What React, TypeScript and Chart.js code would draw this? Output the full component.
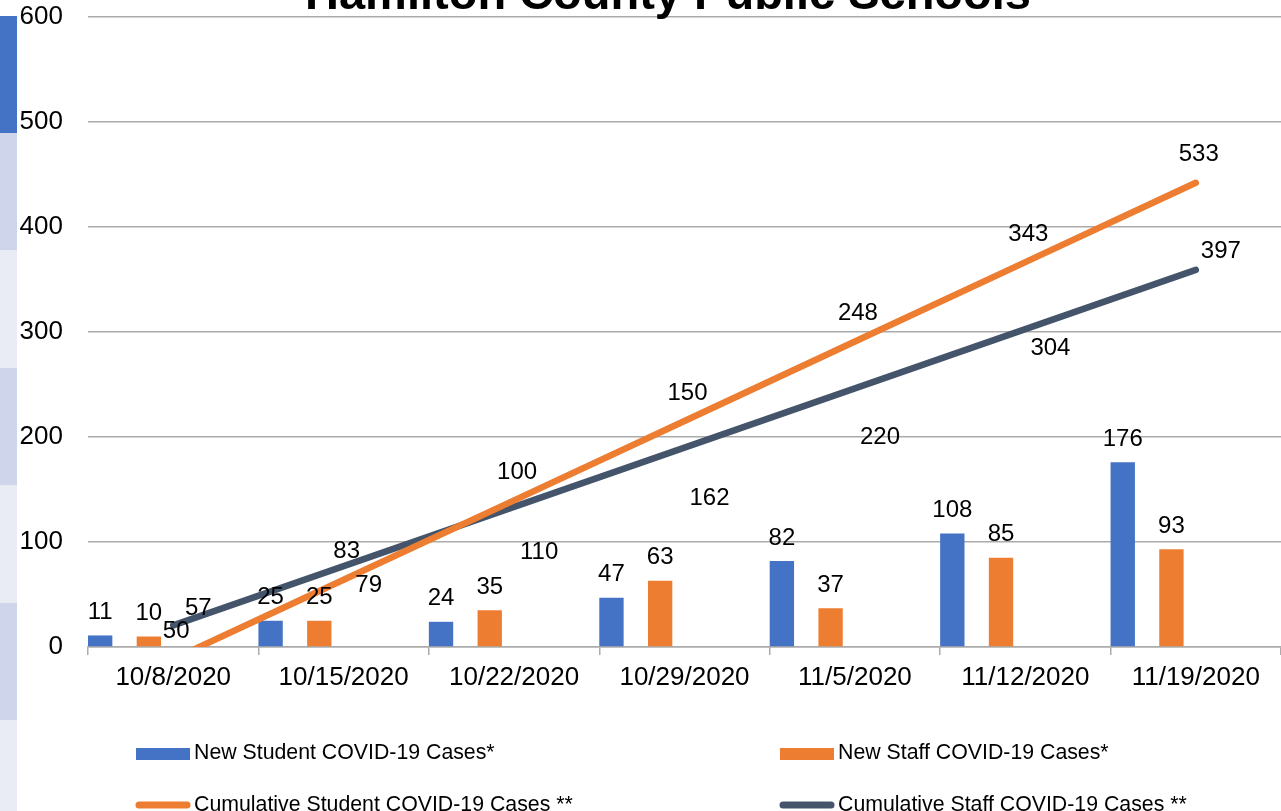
import React, { useEffect, useRef } from 'react';
import { Chart, registerables } from 'chart.js';

Chart.register(...registerables);

// ---------- data ----------
const categories = ['10/8/2020', '10/15/2020', '10/22/2020', '10/29/2020', '11/5/2020', '11/12/2020', '11/19/2020'];
const newStudentCases = [11, 25, 24, 47, 82, 108, 176];
const newStaffCases = [10, 25, 35, 63, 37, 85, 93];
const cumulativeStudentCases = [50, 83, 100, 150, 248, 343, 533];
const cumulativeStaffCases = [57, 79, 110, 162, 220, 304, 397];
const yAxisMin = 0;
const yAxisMax = 600;
const yAxisStep = 100;
const chartTitle = 'Hamilton County Public Schools';
const seriesNames = [
  'New Student COVID-19 Cases*',
  'New Staff COVID-19 Cases*',
  'Cumulative Student COVID-19 Cases **',
  'Cumulative Staff COVID-19 Cases **',
];

// ---------- styles ----------
const FONT = "'Liberation Sans', Arial, Helvetica, sans-serif";
const BLUE = '#4472C4';
const ORANGE = '#ED7D31';
const SLATE = '#44546A';
const GRID = '#ABABAB';

// least-squares linear trendline of a series (as in the source spreadsheet chart)
function linearTrend(values: number[]): number[] {
  const n = values.length;
  const mx = (n - 1) / 2;
  const my = values.reduce((a, b) => a + b, 0) / n;
  let sxy = 0;
  let sxx = 0;
  values.forEach((v, i) => {
    sxy += (i - mx) * (v - my);
    sxx += (i - mx) * (i - mx);
  });
  const slope = sxy / sxx;
  const intercept = my - slope * mx;
  return values.map((_, i) => intercept + slope * i);
}

const sideStripPlugin = {
  id: 'sideStrip',
  beforeDraw(chart: any, _args: any, opts: any) {
    const { ctx } = chart;
    ctx.save();
    ctx.fillStyle = opts.topColor;
    ctx.fillRect(0, opts.top, opts.width, opts.firstBand);
    let y = opts.top + opts.firstBand;
    let k = 0;
    while (y < chart.height) {
      ctx.fillStyle = k % 2 === 0 ? opts.bandA : opts.bandB;
      ctx.fillRect(0, y, opts.width, opts.band);
      y += opts.band;
      k++;
    }
    ctx.restore();
  },
};

const titlePlugin = {
  id: 'cutTitle',
  afterDraw(chart: any, _args: any, opts: any) {
    const { ctx } = chart;
    ctx.save();
    ctx.font = `bold ${opts.size}px ${FONT}`;
    ctx.fillStyle = '#000';
    ctx.textAlign = 'center';
    ctx.textBaseline = 'alphabetic';
    ctx.fillText(opts.text, opts.x, opts.baseline);
    ctx.restore();
  },
};

// value labels: text from dataset `values`, anchored at the elements of dataset `anchor`
const valueLabelPlugin = {
  id: 'valueLabels',
  afterDatasetsDraw(chart: any, _args: any, opts: any) {
    const { ctx } = chart;
    ctx.save();
    ctx.font = `${opts.size}px ${FONT}`;
    ctx.fillStyle = '#000';
    ctx.textAlign = 'center';
    ctx.textBaseline = 'alphabetic';
    (opts.labels as any[]).forEach((spec) => {
      const meta = chart.getDatasetMeta(spec.anchor);
      const data = chart.data.datasets[spec.values].data as number[];
      meta.data.forEach((el: any, i: number) => {
        ctx.fillText(String(data[i]), el.x + spec.dx, el.y + spec.dy);
      });
    });
    ctx.restore();
  },
};

const columnLegendPlugin = {
  id: 'columnLegend',
  afterDraw(chart: any, _args: any, opts: any) {
    const { ctx } = chart;
    ctx.save();
    ctx.font = `${opts.size}px ${FONT}`;
    ctx.fillStyle = '#000';
    ctx.textAlign = 'left';
    ctx.textBaseline = 'alphabetic';
    (opts.items as any[]).forEach((item, idx) => {
      const ds = chart.data.datasets[item.dataset];
      const x = opts.columns[idx % 2];
      const base = opts.rows[Math.floor(idx / 2)];
      if (item.kind === 'rect') {
        ctx.fillStyle = ds.backgroundColor;
        ctx.fillRect(x, base - 11, opts.markerWidth, 12);
      } else {
        ctx.strokeStyle = ds.borderColor;
        ctx.lineWidth = 7;
        ctx.lineCap = 'round';
        ctx.beginPath();
        ctx.moveTo(x + 3, base - 6);
        ctx.lineTo(x + opts.markerWidth - 3, base - 6);
        ctx.stroke();
      }
      ctx.fillStyle = '#000';
      ctx.fillText(ds.label, x + opts.markerWidth + 4, base);
    });
    ctx.restore();
  },
};

export default function App() {
  const canvasRef = useRef<HTMLCanvasElement | null>(null);

  useEffect(() => {
    document.body.style.margin = '0';
    document.body.style.overflow = 'hidden';
    const canvas = canvasRef.current;
    if (!canvas) return;

    const barShape = { categoryPercentage: 8 / 7, barPercentage: 0.5, order: 1 };

    const chart = new Chart(canvas, {
      type: 'bar',
      data: {
        labels: categories,
        datasets: [
          { type: 'bar', label: seriesNames[0], data: newStudentCases, backgroundColor: BLUE, ...barShape },
          { type: 'bar', label: seriesNames[1], data: newStaffCases, backgroundColor: ORANGE, ...barShape },
          { type: 'bar', label: seriesNames[2], data: cumulativeStudentCases, backgroundColor: 'rgba(0,0,0,0)', ...barShape },
          { type: 'bar', label: seriesNames[3], data: cumulativeStaffCases, backgroundColor: 'rgba(0,0,0,0)', ...barShape },
          {
            type: 'line', label: seriesNames[2], data: linearTrend(cumulativeStudentCases),
            borderColor: ORANGE, backgroundColor: ORANGE, borderWidth: 6.5, borderCapStyle: 'round',
            pointRadius: 0, tension: 0, order: 0,
          },
          {
            type: 'line', label: seriesNames[3], data: linearTrend(cumulativeStaffCases),
            borderColor: SLATE, backgroundColor: SLATE, borderWidth: 6.5, borderCapStyle: 'round',
            pointRadius: 0, tension: 0, order: 0,
          },
        ] as any,
      },
      options: {
        responsive: false,
        animation: false,
        devicePixelRatio: 1,
        layout: { padding: { top: 17, left: 0, right: 0, bottom: 104 } },
        scales: {
          x: {
            grid: { offset: true, drawOnChartArea: false, drawTicks: true, tickLength: 8, color: GRID, lineWidth: 1.5 },
            border: { display: true, color: GRID, width: 1.5 },
            ticks: { font: { family: FONT, size: 26 }, color: '#000', padding: 7, maxRotation: 0, autoSkip: false },
            afterFit: (scale: any) => {
              scale.height = 60;
              scale.paddingLeft = 0;
              scale.paddingRight = 0;
            },
          },
          y: {
            min: yAxisMin,
            max: yAxisMax,
            stacked: false,
            ticks: { stepSize: yAxisStep, font: { family: FONT, size: 26 }, color: '#000', padding: 25 },
            grid: { color: GRID, drawTicks: false, lineWidth: 1.5 },
            border: { display: false },
            afterFit: (scale: any) => {
              scale.width = 88;
              scale.paddingTop = 0;
              scale.paddingBottom = 0;
            },
          },
        },
        plugins: {
          legend: { display: false },
          tooltip: { enabled: false },
          title: { display: false },
          sideStrip: {
            top: 16, width: 17, firstBand: 117, band: 117.5,
            topColor: '#4472C4', bandA: '#CFD5EA', bandB: '#E9EBF5',
          },
          cutTitle: { text: chartTitle, size: 47, x: 668, baseline: 8.5 },
          valueLabels: {
            size: 24,
            labels: [
              { values: 0, anchor: 0, dx: 0, dy: -16.4 },
              { values: 1, anchor: 1, dx: 0, dy: -16.4 },
              { values: 2, anchor: 4, dx: 3, dy: -21.4 },
              { values: 3, anchor: 3, dx: -48, dy: 27.6 },
            ],
          },
          columnLegend: {
            size: 21.3,
            markerWidth: 54,
            columns: [136, 780],
            rows: [759, 811],
            items: [
              { dataset: 0, kind: 'rect' },
              { dataset: 1, kind: 'rect' },
              { dataset: 4, kind: 'line' },
              { dataset: 5, kind: 'line' },
            ],
          },
        } as any,
      },
      plugins: [sideStripPlugin, titlePlugin, valueLabelPlugin, columnLegendPlugin],
    });

    return () => chart.destroy();
  }, []);

  return (
    <div style={{ position: 'relative', width: 1281, height: 811, background: '#fff' }}>
      <canvas ref={canvasRef} width={1281} height={811} />
    </div>
  );
}
